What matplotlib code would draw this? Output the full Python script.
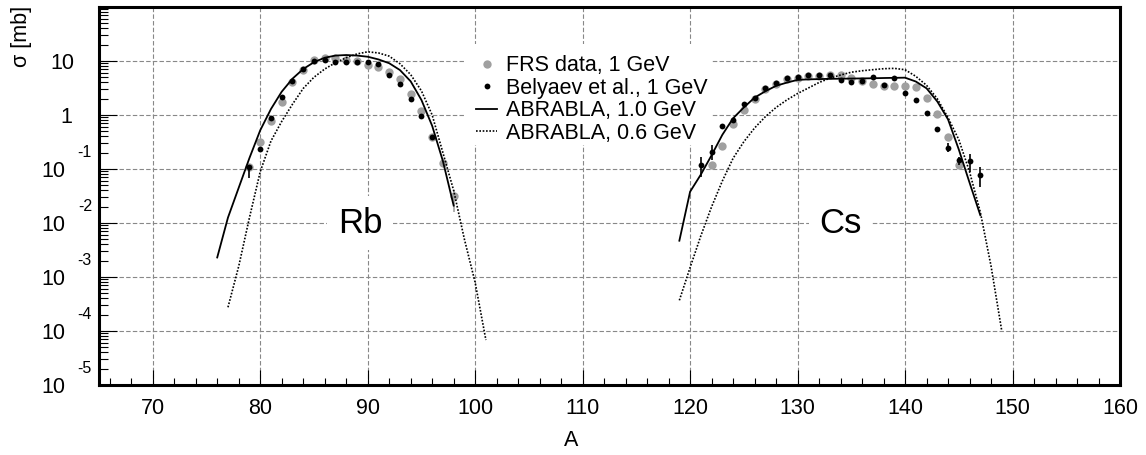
import numpy as np
import matplotlib.pyplot as plt
from matplotlib.patches import Rectangle
from matplotlib.ticker import FixedLocator, LogLocator, NullFormatter

plt.rcParams['font.family'] = ['Liberation Sans', 'DejaVu Sans']

# FRS data, 1 GeV (grey points)
rb_frs_A = np.arange(79, 99)
rb_frs = [0.11, 0.31, 0.77, 1.76, 4.0, 6.7, 10.5, 11.2, 11.5, 10.5,
          10.0, 8.4, 7.9, 6.3, 4.6, 2.4, 1.19, 0.39, 0.127, 0.031]
cs_frs_A = np.arange(122, 146)
cs_frs = [0.119, 0.27, 0.69, 1.24, 2.0, 3.0, 3.75, 4.6, 4.9, 5.2, 5.3, 5.4,
          5.5, 4.8, 4.3, 3.75, 3.5, 3.45, 3.45, 3.35, 2.04, 1.03, 0.39, 0.119]

# Belyaev et al., 1 GeV (black points)
rb_bel_A = np.arange(79, 97)
rb_bel = [0.107, 0.23, 0.89, 2.2, 4.3, 7.1, 10.0, 10.4, 9.7, 9.5, 9.5, 9.5,
          8.7, 5.5, 3.7, 1.95, 0.97, 0.39]
cs_bel_A = np.arange(121, 148)
cs_bel = [0.119, 0.21, 0.625, 0.81, 1.6, 2.1, 3.2, 3.96, 4.8, 5.0, 5.5, 5.4,
          5.4, 4.45, 4.0, 4.3, 5.0, 3.6, 4.8, 2.6, 1.9, 1.1, 0.56, 0.25,
          0.147, 0.143, 0.079]

# visible error bars (lower, upper)
bel_err_A = [79, 121, 122, 144, 145, 146, 147]
bel_err_y = [0.107, 0.119, 0.21, 0.25, 0.147, 0.143, 0.079]
bel_err_lo = [0.068, 0.072, 0.147, 0.21, 0.12, 0.089, 0.047]
bel_err_hi = [0.12, 0.169, 0.278, 0.30, 0.17, 0.19, 0.11]
frs_err_A = [98]
frs_err_y = [0.031]
frs_err_lo = [0.016]
frs_err_hi = [0.04]

# ABRABLA calculations
rb_abr10_A = np.arange(76, 99)
rb_abr10 = [0.0023, 0.0126, 0.045, 0.16, 0.52, 1.29, 2.7, 4.7, 7.1, 9.5, 11.5,
            12.6, 12.9, 12.6, 12.0, 10.7, 9.1, 6.8, 4.2, 1.9, 0.63, 0.14, 0.021]
rb_abr06_A = np.arange(77, 102)
rb_abr06 = [0.000275, 0.00158, 0.0126, 0.089, 0.33, 0.76, 1.58, 3.1, 5.0, 7.1,
            9.3, 11.5, 13.5, 14.8, 14.1, 12.3, 8.9, 5.6, 2.8, 1.0, 0.2, 0.04,
            0.005, 0.00079, 0.000068]
cs_abr10_A = np.arange(119, 148)
cs_abr10 = [0.0047, 0.038, 0.079, 0.18, 0.43, 0.87, 1.38, 2.1, 2.75, 3.47,
            3.98, 4.47, 4.57, 4.62, 4.68, 4.7, 4.73, 4.76, 4.79, 4.84, 4.88,
            4.91, 4.17, 3.12, 1.78, 0.83, 0.23, 0.056, 0.014]
cs_abr06_A = np.arange(119, 150)
cs_abr06 = [0.00037, 0.0015, 0.0058, 0.02, 0.06, 0.158, 0.32, 0.575, 0.93,
            1.38, 1.9, 2.5, 3.16, 4.0, 4.8, 5.5, 6.2, 6.6, 6.9, 7.2, 7.3, 6.9,
            5.2, 3.55, 2.0, 0.89, 0.35, 0.089, 0.016, 0.0016, 0.0001]

decades = [1, 0, -1, -2, -3, -4, -5]

fig = plt.figure(figsize=(11.46, 4.55), dpi=100)
ax = fig.add_axes([99/1146, 70/455, 1021/1146, 378/455])

grey = '#a0a0a0'
fs = 15.5

# data points
ax.plot(rb_frs_A, rb_frs, 'o', color=grey, ms=6, mew=0, zorder=3,
        label='FRS data, 1 GeV')
ax.plot(cs_frs_A, cs_frs, 'o', color=grey, ms=6, mew=0, zorder=3)
ax.errorbar(frs_err_A, frs_err_y,
            yerr=[np.array(frs_err_y) - np.array(frs_err_lo),
                  np.array(frs_err_hi) - np.array(frs_err_y)],
            fmt='none', ecolor=grey, elinewidth=1.2, capsize=0, zorder=3)

ax.plot(rb_abr10_A, rb_abr10, '-', color='black', lw=1.3, zorder=4,
        label='ABRABLA, 1.0 GeV')
ax.plot(cs_abr10_A, cs_abr10, '-', color='black', lw=1.3, zorder=4)
ax.plot(rb_abr06_A, rb_abr06, color='black', lw=1.2, ls=(0, (1, 1)), zorder=4,
        label='ABRABLA, 0.6 GeV')
ax.plot(cs_abr06_A, cs_abr06, color='black', lw=1.2, ls=(0, (1, 1)), zorder=4)

ax.plot(rb_bel_A, rb_bel, 'o', color='black', ms=4.2, mew=0, zorder=5,
        label='Belyaev et al., 1 GeV')
ax.plot(cs_bel_A, cs_bel, 'o', color='black', ms=4.2, mew=0, zorder=5)
ax.errorbar(bel_err_A, bel_err_y,
            yerr=[np.array(bel_err_y) - np.array(bel_err_lo),
                  np.array(bel_err_hi) - np.array(bel_err_y)],
            fmt='none', ecolor='black', elinewidth=1.2, capsize=0, zorder=5)

ax.set_yscale('log')
ax.set_xlim(65, 160)
ax.set_ylim(1e-5, 1e2)

# axes, ticks, grid
ax.xaxis.set_major_locator(FixedLocator(np.arange(70, 161, 10)))
ax.xaxis.set_minor_locator(FixedLocator(np.arange(66, 160, 2)))
ax.yaxis.set_major_locator(FixedLocator([10.0**d for d in decades]))
ax.yaxis.set_minor_locator(LogLocator(base=10, subs=np.arange(2, 10), numticks=20))
ax.yaxis.set_major_formatter(NullFormatter())
ax.yaxis.set_minor_formatter(NullFormatter())
ax.tick_params(axis='x', which='major', direction='in', length=11, width=0.8,
               labelsize=fs, pad=9)
ax.tick_params(axis='x', which='minor', direction='in', length=5, width=0.8)
ax.tick_params(axis='y', which='major', direction='in', length=13, width=0.8)
ax.tick_params(axis='y', which='minor', direction='in', length=6.5, width=0.8)
for s in ax.spines.values():
    s.set_linewidth(2.2)
ax.grid(True, which='major', color='#888888', ls=(0, (4, 2)), lw=0.8)

# ROOT style y labels
for d in decades:
    if d == 1:
        ax.annotate('10', xy=(0, 10.0**d), xycoords=('axes fraction', 'data'),
                    xytext=(-25, -2), textcoords='offset pixels',
                    ha='right', va='center', fontsize=fs)
    elif d == 0:
        ax.annotate('1', xy=(0, 1.0), xycoords=('axes fraction', 'data'),
                    xytext=(-27, -2), textcoords='offset pixels',
                    ha='right', va='center', fontsize=fs)
    else:
        ax.annotate('10', xy=(0, 10.0**d), xycoords=('axes fraction', 'data'),
                    xytext=(-34, -2), textcoords='offset pixels',
                    ha='right', va='center', fontsize=fs, annotation_clip=False)
        ax.annotate(str(d), xy=(0, 10.0**d), xycoords=('axes fraction', 'data'),
                    xytext=(-7, 17), textcoords='offset pixels',
                    ha='right', va='center', fontsize=11.5, annotation_clip=False)

fig.text(571/1146, 1 - 440/455, 'A', ha='center', va='center', fontsize=fs)
fig.text(22/1146, 1 - 6/455, 'σ [mb]', ha='center', va='top', rotation=90,
         fontsize=fs)

# element labels
ax.text(89.3, 0.01, 'Rb', fontsize=25, ha='center', va='center', zorder=6,
        bbox=dict(boxstyle='square,pad=0.3', fc='white', ec='none'))
ax.text(134.0, 0.01, 'Cs', fontsize=25, ha='center', va='center', zorder=6,
        bbox=dict(boxstyle='square,pad=0.3', fc='white', ec='none'))

# legend on white patch
ax.add_patch(Rectangle((0.358, 0.635), 0.241, 0.267, transform=ax.transAxes,
                       fc='white', ec='none', zorder=1.8))
h, l = ax.get_legend_handles_labels()
order = [l.index('FRS data, 1 GeV'), l.index('Belyaev et al., 1 GeV'),
         l.index('ABRABLA, 1.0 GeV'), l.index('ABRABLA, 0.6 GeV')]
leg = ax.legend([h[i] for i in order], [l[i] for i in order],
                loc='upper left', bbox_to_anchor=(0.369, 0.872), frameon=False,
                fontsize=fs, handlelength=1.0, handletextpad=0.4,
                labelspacing=0.07, borderpad=0, borderaxespad=0)
leg.set_zorder(7)

fig.savefig('out.png', dpi=100)
